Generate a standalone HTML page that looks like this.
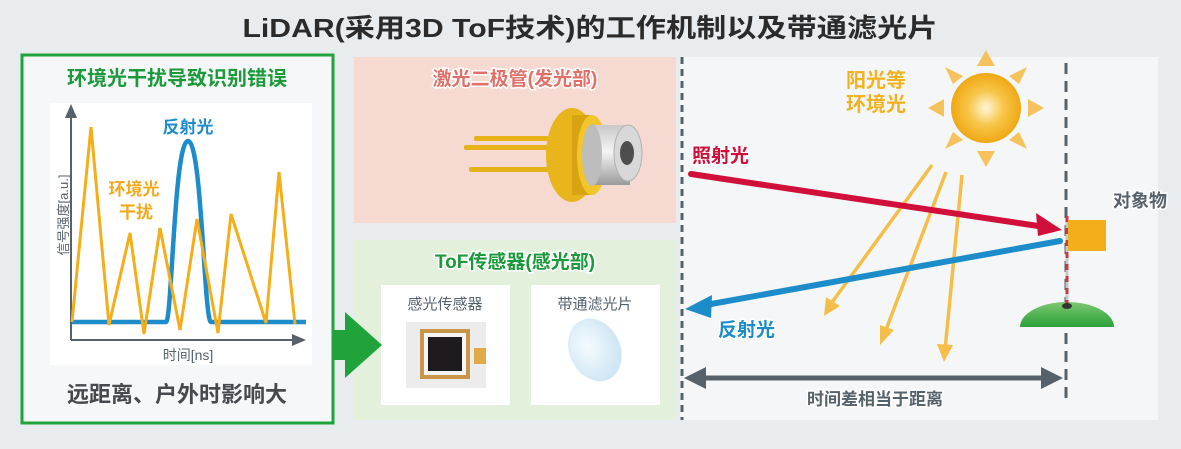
<!DOCTYPE html>
<html><head><meta charset="utf-8"><style>
html,body{margin:0;padding:0;background:#e9ecef;}
svg{display:block;}
text{font-family:"Liberation Sans","Noto Sans CJK SC",sans-serif;font-weight:bold;}
</style></head><body>
<svg width="1181" height="449" viewBox="0 0 1181 449" xmlns="http://www.w3.org/2000/svg">
<defs>
<radialGradient id="sun" cx="0.5" cy="0.5" r="0.5"><stop offset="0" stop-color="#fff6d8"/><stop offset="0.5" stop-color="#f8c64a"/><stop offset="1" stop-color="#f0a814"/></radialGradient>
<linearGradient id="mound" x1="0" y1="0" x2="0" y2="1"><stop offset="0" stop-color="#7cc870"/><stop offset="1" stop-color="#2ba03a"/></linearGradient>
<linearGradient id="cyl" x1="0" y1="0" x2="0" y2="1"><stop offset="0" stop-color="#c9c9c9"/><stop offset="0.45" stop-color="#f4f4f4"/><stop offset="1" stop-color="#9a9a9a"/></linearGradient>
<radialGradient id="lens" cx="0.4" cy="0.4" r="0.6"><stop offset="0" stop-color="#f4fbff"/><stop offset="1" stop-color="#cfe6f3"/></radialGradient>
</defs>
<rect width="1181" height="449" fill="#e9ecef"/>
<text x="590" y="37" font-size="26" text-anchor="middle" fill="#2b2b2b" textLength="695" lengthAdjust="spacingAndGlyphs">LiDAR(采用3D ToF技术)的工作机制以及带通滤光片</text>

<!-- left box -->
<rect x="22" y="55" width="311" height="368" fill="#f6f7f8" stroke="#1fa33a" stroke-width="3"/>
<text x="177" y="85" font-size="20" text-anchor="middle" fill="#1a9a3a">环境光干扰导致识别错误</text>
<rect x="50" y="103" width="262" height="262" fill="#ffffff"/>
<line x1="71" y1="340" x2="71" y2="112" stroke="#55626c" stroke-width="2"/>
<polygon points="71,104 65,118 77,118" fill="#55626c"/>
<line x1="71" y1="340" x2="298" y2="340" stroke="#55626c" stroke-width="2"/>
<polygon points="306,340 292,334 292,346" fill="#55626c"/>
<text x="68" y="215" font-size="13" fill="#55626c" text-anchor="middle" transform="rotate(-90 68 215)" style="font-weight:normal">信号强度[a.u.]</text>
<text x="188" y="360" font-size="14" fill="#55626c" text-anchor="middle" style="font-weight:normal">时间[ns]</text>
<path d="M72,322 L166,322 C172,322 174,141 188,141 C202,141 204,322 211,322 L306,322" fill="none" stroke="#1d8ccb" stroke-width="4.5"/>
<polyline points="72,322 91,127 109,325 130,233 144,334 160,228 180,330 197,219 218,333 231,214 266,323 279,172 295,324" fill="none" stroke="#f5ae1a" stroke-width="3"/>
<text x="188" y="133" font-size="17" fill="#1d8ccb" text-anchor="middle">反射光</text>
<text x="134" y="195" font-size="17" fill="#f2a818" text-anchor="middle">环境光</text>
<text x="136" y="218" font-size="17" fill="#f2a818" text-anchor="middle">干扰</text>
<text x="177" y="402" font-size="22" fill="#454a4f" text-anchor="middle">远距离、户外时影响大</text>

<!-- pink panel -->
<rect x="354" y="57" width="322" height="166" fill="#f6d9d1"/>
<text x="515" y="85" font-size="19" fill="#e07068" text-anchor="middle" stroke="#fff" stroke-width="3" paint-order="stroke">激光二极管(发光部)</text>
<g>
<rect x="474" y="136" width="90" height="5" rx="2" fill="#e6b21a"/>
<rect x="464" y="145" width="96" height="5" rx="2" fill="#e6b21a"/>
<rect x="469" y="167" width="90" height="5" rx="2" fill="#e6b21a"/>
<ellipse cx="572" cy="155" rx="26" ry="47" fill="#e8b61c"/>
<rect x="572" y="115" width="20" height="80" fill="#d9a412"/>
<ellipse cx="592" cy="155" rx="15" ry="40" fill="#f2c62a"/>
<rect x="590" y="125" width="40" height="60" fill="url(#cyl)"/>
<ellipse cx="592" cy="155" rx="10" ry="31" fill="#bdbdbd"/>
<ellipse cx="628" cy="153" rx="14" ry="28" fill="#d8d8d8" stroke="#b0b0b0"/>
<ellipse cx="627" cy="153" rx="7" ry="12" fill="#4e4e4e"/>
</g>

<!-- green panel -->
<rect x="354" y="240" width="322" height="180" fill="#e3f0dc"/>
<text x="515" y="268" font-size="19" fill="#1a9a3a" text-anchor="middle" stroke="#fff" stroke-width="3" paint-order="stroke">ToF传感器(感光部)</text>
<rect x="381" y="285" width="129" height="120" fill="#fff"/>
<rect x="531" y="285" width="129" height="120" fill="#fff"/>
<text x="445" y="309" font-size="15" fill="#55626c" text-anchor="middle" style="font-weight:normal">感光传感器</text>
<text x="595" y="309" font-size="15" fill="#55626c" text-anchor="middle" style="font-weight:normal">带通滤光片</text>
<rect x="406" y="322" width="80" height="66" fill="#ececec"/>
<rect x="420" y="329" width="50" height="50" fill="#c9954a"/>
<rect x="424" y="333" width="42" height="42" fill="#f4f4f4"/>
<rect x="428" y="337" width="34" height="34" fill="#1f1a20"/>
<rect x="474" y="348" width="12" height="16" fill="#e0a94a"/>
<ellipse cx="595" cy="350" rx="25" ry="32" transform="rotate(-25 595 350)" fill="url(#lens)" stroke="#d8ecf6"/>

<!-- green arrow (on top) -->
<rect x="333" y="330" width="16" height="30" fill="#1fa33a"/>
<polygon points="345,312 382,345 345,378" fill="#1fa33a"/>

<!-- right panel -->
<rect x="680" y="57" width="478" height="363" fill="#f5f6f8"/>
<line x1="682" y1="57" x2="682" y2="420" stroke="#55626c" stroke-width="3" stroke-dasharray="7,5"/>
<line x1="1066" y1="63" x2="1066" y2="405" stroke="#55626c" stroke-width="3" stroke-dasharray="11,7"/>

<!-- sun -->
<g fill="#f6c25c">
<polygon points="986,50 977,66 995,66"/>
<polygon points="986,167 977,151 995,151"/>
<polygon points="928,108 944,99 944,117"/>
<polygon points="1044,108 1028,99 1028,117"/>
<polygon points="945,67 963,76 953,84"/>
<polygon points="1027,67 1009,76 1019,84"/>
<polygon points="945,149 963,140 953,132"/>
<polygon points="1027,149 1009,140 1019,132"/>
</g>
<circle cx="986" cy="108" r="35" fill="url(#sun)"/>
<text x="846" y="87" font-size="20" fill="#f2b21e">阳光等</text>
<text x="846" y="111" font-size="20" fill="#f2b21e">环境光</text>

<!-- orange rays -->
<g stroke="#f5b938" stroke-width="3.5" fill="#f5b938" opacity="0.9">
<line x1="932" y1="165" x2="830" y2="305"/>
<polygon points="824,316 826,297 840,306" stroke="none"/>
<line x1="946" y1="172" x2="884" y2="335"/>
<polygon points="880,345 880,325 894,330" stroke="none"/>
<line x1="962" y1="175" x2="945" y2="350"/>
<polygon points="944,362 937,344 953,345" stroke="none"/>
</g>

<!-- red arrow -->
<text x="692" y="162" font-size="19" fill="#d0103a" stroke="#fff" stroke-width="3" paint-order="stroke">照射光</text>
<line x1="691" y1="174" x2="1045" y2="227" stroke="#d0103a" stroke-width="6" stroke-linecap="round"/>
<polygon points="1062,230 1036,213 1038,236" fill="#d0103a"/>

<!-- blue arrow -->
<line x1="1060" y1="241" x2="700" y2="306" stroke="#1d8ccb" stroke-width="6" stroke-linecap="round"/>
<polygon points="685,309 712,295 711,318" fill="#1d8ccb"/>
<text x="718" y="336" font-size="19" fill="#1d8ccb" stroke="#fff" stroke-width="3" paint-order="stroke">反射光</text>

<!-- target -->
<path d="M1020,327 A47,25 0 0 1 1114,327 Z" fill="url(#mound)"/>
<line x1="1067" y1="216" x2="1067" y2="305" stroke="#c9c9c9" stroke-width="3"/>
<line x1="1067" y1="216" x2="1067" y2="305" stroke="#c8374a" stroke-width="3" stroke-dasharray="6,6"/>
<ellipse cx="1067" cy="306" rx="5" ry="3" fill="#333"/>
<rect x="1068" y="220" width="38" height="31" fill="#f4ae1a"/>
<text x="1113" y="207" font-size="18" fill="#55626c" stroke="#fff" stroke-width="3" paint-order="stroke">对象物</text>

<!-- distance arrow -->
<line x1="698" y1="378" x2="1048" y2="378" stroke="#55626c" stroke-width="5"/>
<polygon points="684,378 706,367 706,389" fill="#55626c"/>
<polygon points="1063,378 1041,367 1041,389" fill="#55626c"/>
<text x="875" y="405" font-size="17" fill="#55626c" text-anchor="middle" stroke="#fff" stroke-width="3" paint-order="stroke">时间差相当于距离</text>
</svg>
</body></html>
